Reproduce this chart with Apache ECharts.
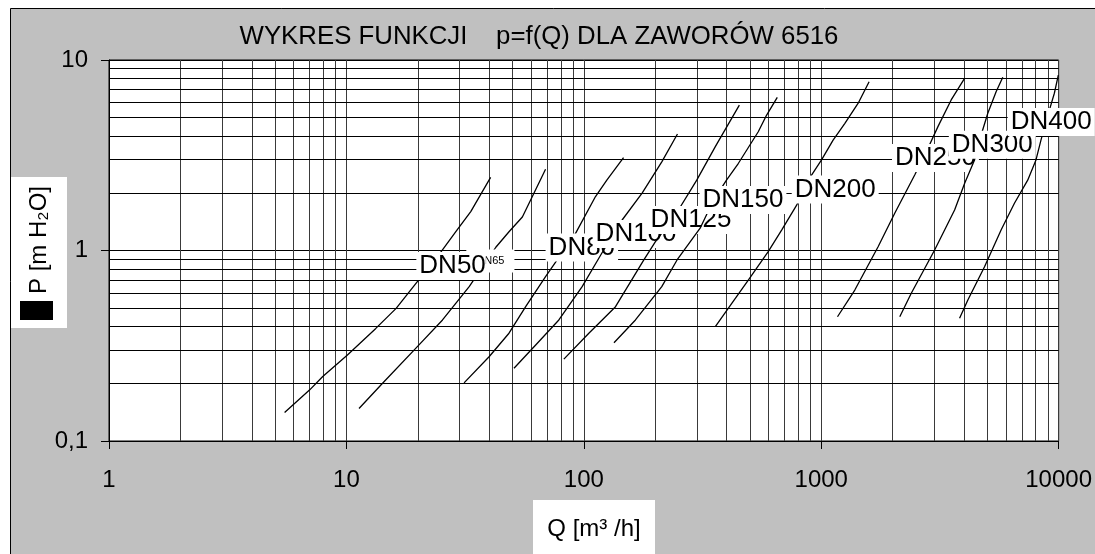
<!DOCTYPE html>
<html><head><meta charset="utf-8">
<script src="https://cdn.jsdelivr.net/npm/echarts@6/dist/echarts.min.js"></script>
<style>html,body{margin:0;padding:0;background:#fff}#c{width:1095px;height:554px}</style>
</head><body><div id="c"></div>
<script>
// ---- data (Q [m3/h], P [m H2O]) ----
const seriesNames = ['DN50','DN65','DN80','DN100','DN125','DN150','DN200','DN250','DN300','DN400'];
const dn50  = [[5.49,0.141],[6.99,0.185],[7.95,0.218],[10.1,0.283],[13.3,0.390],[16.2,0.497],[19.9,0.686],[24.2,0.928],[28.9,1.255],[33.4,1.60],[40.5,2.42]];
const dn65  = [[11.3,0.148],[14.2,0.201],[19.9,0.313],[25.4,0.432],[32.9,0.646],[42.6,1.04],[48.4,1.255],[55.1,1.50],[60.7,1.92],[69.0,2.67]];
const dn80  = [[31.3,0.202],[39.9,0.277],[48.4,0.368],[56.9,0.507],[69.0,0.729],[92.3,1.23],[112,1.92],[125,2.34],[147,3.07]];
const dn100 = [[50.8,0.241],[62.7,0.319],[78.5,0.432],[98.4,0.646],[119,0.967],[145,1.446],[176,2.00],[213,2.92],[248,4.09]];
const dn125 = [[82.4,0.269],[105,0.368],[136,0.507],[179,0.892],[200,1.11],[243,1.536],[299,2.34],[358,3.51],[452,5.80]];
const dn150 = [[134,0.328],[165,0.432],[213,0.646],[247,0.892],[309,1.31],[352,1.84],[399,2.34],[448,2.87],[543,4.20],[589,5.14],[653,6.37]];
const dn200 = [[358,0.398],[420,0.528],[493,0.70],[598,0.986],[681,1.28],[788,1.73],[882,2.34],[1003,2.99],[1122,3.80],[1258,4.65],[1431,5.93],[1591,7.69]];
const dn250 = [[1171,0.449],[1385,0.620],[1736,1.047],[2040,1.57],[2476,2.49],[2815,3.44],[3102,4.47],[3527,6.17],[4016,8.01]];
const dn300 = [[2142,0.449],[2395,0.596],[3004,1.006],[3646,1.63],[4016,2.25],[4424,2.99],[4716,4.04],[5031,5.25],[5453,6.82],[5818,8.11]];
const dn400 = [[3826,0.441],[4146,0.55],[4874,0.822],[5723,1.28],[6514,1.77],[7409,2.34],[8028,2.99],[8425,3.80],[9141,5.46],[9594,6.69],[9970,8.34]];
// label anchor points (data coordinates)
const labelAt = [[27.6,0.829],[40.4,0.881],[98.1,1.037],[166,1.22],[283,1.446],[468,1.84],[1145,2.09],[3028,3.06],[5255,3.59],[9300,4.73]];
// axis tick labels
const xTickLabels = {1:'1',10:'10',100:'100',1000:'1000',10000:'10000'};
const yTickLabels = {0.1:'0,1',1:'1',10:'10'};
const gridMultipliers = [2,3,4,5,6,7,8,9];
const xDecades = [1,10,100,1000];
const yDecades = [0.1,1];
const titleText = 'WYKRES FUNKCJI    p=f(Q) DLA ZAWORÓW 6516';

// ---- chart ----
const FONT = "'Liberation Sans', Arial, sans-serif";
const curves = [dn50,dn65,dn80,dn100,dn125,dn150,dn200,dn250,dn300,dn400];
const key = v => +(+v).toPrecision(6);

const gridLines = [];
xDecades.forEach(d => gridMultipliers.forEach(m => gridLines.push({xAxis: key(d*m), lineStyle:{color:'#3a3a3a', width:1, type:'solid'}})));
yDecades.forEach(d => gridMultipliers.forEach(m => gridLines.push({yAxis: key(d*m), lineStyle:{color:'#000', width:1, type:'solid'}})));

const series = [{
  type:'line', name:'grid', data:[[1,1]], symbol:'none', silent:true, z:1,
  lineStyle:{opacity:0},
  markLine:{silent:true, symbol:['none','none'], label:{show:false}, animation:false, data:gridLines}
}];
curves.forEach((c,i) => {
  series.push({type:'line', name:seriesNames[i], data:c, symbol:'none', silent:true, z:10+2*i,
    lineStyle:{color:'#000', width:1.3}});
  const small = seriesNames[i] === 'DN65';
  series.push({type:'scatter', name:seriesNames[i]+' label', data:[labelAt[i]], symbolSize:0, silent:true,
    z: i===0 ? 13.5 : 11+2*i,
    itemStyle:{opacity:1},
    label:{show:true, position:'inside', formatter:seriesNames[i], color:'#000', opacity:1, fontFamily:FONT,
      fontSize: small ? 11 : 26, backgroundColor:'#fff',
      padding: small ? [6,10,6,10] : (i===0 ? [1,0,1,3] : [1,3,1,3])}});
});

const option = {
  animation:false,
  backgroundColor:'#fff',
  grid:{left:109, right:34, top:60, bottom:113, show:true, backgroundColor:'#fff', borderColor:'#000', borderWidth:1, z:0},
  xAxis:{type:'log', logBase:10, min:1, max:10000,
    axisLine:{show:true, lineStyle:{color:'#000', width:1}},
    axisTick:{show:true, length:8, lineStyle:{color:'#000'}},
    axisLabel:{margin:27, fontSize:24, color:'#000', fontFamily:FONT, formatter:v => xTickLabels[key(v)] || ''},
    splitLine:{show:true, lineStyle:{color:'#3a3a3a', width:1}}},
  yAxis:{type:'log', logBase:10, min:0.1, max:10,
    axisLine:{show:true, lineStyle:{color:'#000', width:1}},
    axisTick:{show:true, length:8, lineStyle:{color:'#000'}},
    axisLabel:{margin:21, fontSize:24, color:'#000', fontFamily:FONT, formatter:v => yTickLabels[key(v)] || ''},
    splitLine:{show:true, lineStyle:{color:'#000', width:1}}},
  graphic:[
    {type:'rect', z:-10, silent:true, shape:{x:10.5, y:8.5, width:1100, height:560}, style:{fill:'#c0c0c0', stroke:'#000', lineWidth:1}},
    {type:'text', z:100, silent:true, x:539, y:37, style:{text:titleText, font:'25.8px '+FONT, fill:'#000', textAlign:'center', textVerticalAlign:'middle'}},
    {type:'rect', z:100, silent:true, shape:{x:11, y:177, width:56, height:151}, style:{fill:'#fff'}},
    {type:'rect', z:101, silent:true, shape:{x:20, y:301, width:33, height:19}, style:{fill:'#000'}},
    {type:'text', z:101, silent:true, x:39, y:240, rotation:Math.PI/2,
      style:{text:'P [m H₂O]', font:'24px '+FONT, fill:'#000', textAlign:'center', textVerticalAlign:'middle'}},
    {type:'rect', z:100, silent:true, shape:{x:533, y:500, width:122, height:60}, style:{fill:'#fff'}},
    {type:'text', z:101, silent:true, x:594, y:529,
      style:{text:'Q [m³ /h]', font:'24px '+FONT, fill:'#000', textAlign:'center', textVerticalAlign:'middle'}}
  ],
  series
};
const chart = echarts.init(document.getElementById('c'));
chart.setOption(option);
</script></body></html>
